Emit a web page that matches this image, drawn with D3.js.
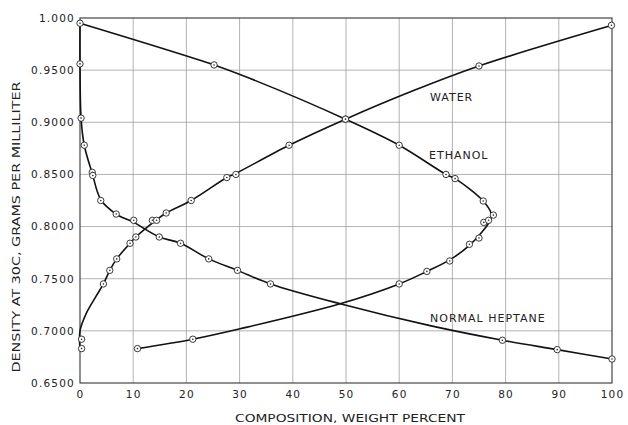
<!DOCTYPE html>
<html>
<head>
<meta charset="utf-8">
<script src="https://cdn.jsdelivr.net/npm/d3@7"></script>
<style>
  body { margin: 0; background: #fff; }
  text { font-family: "DejaVu Sans", sans-serif; fill: #222; }
</style>
</head>
<body>
<div id="chart"></div>
<script>
// tick values and labels
var xTicks = [0, 10, 20, 30, 40, 50, 60, 70, 80, 90, 100];
var xTickLabels = ["0", "10", "20", "30", "40", "50", "60", "70", "80", "90", "100"];
var yTicks = [0.65, 0.70, 0.75, 0.80, 0.85, 0.90, 0.95, 1.00];
var yTickLabels = ["0.6500", "0.7000", "0.7500", "0.8000", "0.8500", "0.9000", "0.9500", "1.000"];

// measured points [weight percent, density]
var waterPts = [[0.3, 0.683], [0.3, 0.692], [4.4, 0.745], [5.6, 0.758], [6.9, 0.769], [9.4, 0.784],
  [10.5, 0.790], [13.6, 0.806], [14.4, 0.806], [16.2, 0.813], [20.9, 0.825], [27.6, 0.847],
  [29.3, 0.850], [39.3, 0.878], [49.9, 0.903], [75.0, 0.954], [99.9, 0.993]];
var heptanePts = [[0, 0.956], [0.2, 0.904], [0.8, 0.878], [2.3, 0.852], [2.4, 0.849], [3.9, 0.825],
  [6.8, 0.812], [10.1, 0.806], [14.9, 0.790], [18.9, 0.784], [24.2, 0.769], [29.6, 0.758],
  [35.8, 0.745], [79.4, 0.691], [89.7, 0.682], [100, 0.673]];
var ethanolPts = [[10.8, 0.683], [21.2, 0.692], [60.0, 0.745], [65.2, 0.757], [69.5, 0.767],
  [73.2, 0.783], [75.0, 0.789], [75.9, 0.804], [76.8, 0.806], [77.7, 0.811], [75.8, 0.8245],
  [70.5, 0.846], [68.8, 0.850], [60.0, 0.878], [49.9, 0.903], [25.2, 0.955], [0, 0.995]];

// smoothed curves as drawn on the chart
var waterLine = [[0, 0.683], [0, 0.700], [1.2, 0.717], [3.0, 0.733], [4.4, 0.745], [5.6, 0.758],
  [6.9, 0.769], [9.4, 0.784], [10.5, 0.790], [14.0, 0.805], [16.2, 0.813], [20.9, 0.825],
  [27.6, 0.847], [29.3, 0.851], [39.3, 0.878], [49.9, 0.903], [62.0, 0.929],
  [75.0, 0.954], [100, 0.993]];
var heptaneLine = [[0, 0.995], [0, 0.956], [0.2, 0.904], [0.8, 0.878], [2.3, 0.851], [3.9, 0.826],
  [6.8, 0.812], [10.1, 0.804], [14.9, 0.790], [18.9, 0.784], [24.2, 0.769], [29.6, 0.758],
  [35.8, 0.745], [48.9, 0.726], [65.8, 0.705], [79.4, 0.691], [89.7, 0.682], [100, 0.673]];
var ethanolLine = [[10.8, 0.683], [21.2, 0.692], [30.1, 0.702], [48.9, 0.726], [60.0, 0.745],
  [65.2, 0.757], [69.5, 0.768], [73.2, 0.782], [75.6, 0.795], [77.0, 0.805], [77.3, 0.812],
  [75.8, 0.8245], [70.5, 0.846], [68.8, 0.850], [60.0, 0.878], [49.9, 0.903], [32.0, 0.942],
  [25.2, 0.955], [0, 0.995]];

var labels = [
  {name: "WATER", x: 430, y: 101},
  {name: "ETHANOL", x: 429, y: 159},
  {name: "NORMAL HEPTANE", x: 430, y: 322}
];

// dimensions
var W = 628, H = 425;
var margin = {top: 18, right: 16, bottom: 42, left: 80},
    width = W - margin.left - margin.right,
    height = H - margin.top - margin.bottom;

var svg = d3.select("#chart")
  .append("svg")
    .attr("width", W)
    .attr("height", H);

var g = svg.append("g")
    .attr("transform", "translate(" + margin.left + "," + margin.top + ")");

var x = d3.scaleLinear().domain([0, 100]).range([0, width]);
var y = d3.scaleLinear().domain([0.65, 1.0]).range([height, 0]);

// grid
g.append("g")
  .selectAll("line")
  .data(xTicks.slice(1, -1))
  .enter().append("line")
    .attr("x1", function(d) { return x(d); })
    .attr("x2", function(d) { return x(d); })
    .attr("y1", 0).attr("y2", height)
    .attr("stroke", "#a0a0a0").attr("stroke-width", 0.8);
g.append("g")
  .selectAll("line")
  .data(yTicks.slice(1, -1))
  .enter().append("line")
    .attr("y1", function(d) { return y(d); })
    .attr("y2", function(d) { return y(d); })
    .attr("x1", 0).attr("x2", width)
    .attr("stroke", "#a0a0a0").attr("stroke-width", 0.8);

// frame
g.append("rect")
  .attr("width", width).attr("height", height)
  .attr("fill", "none").attr("stroke", "#333").attr("stroke-width", 1.1);

// axes
var xAxis = g.append("g")
  .attr("transform", "translate(0," + height + ")")
  .call(d3.axisBottom(x).tickValues(xTicks).tickSize(0).tickPadding(8)
    .tickFormat(function(d, i) { return xTickLabels[i]; }));
var yAxis = g.append("g")
  .call(d3.axisLeft(y).tickValues(yTicks).tickSize(0).tickPadding(5)
    .tickFormat(function(d, i) { return yTickLabels[i]; }));
[xAxis, yAxis].forEach(function(a) {
  a.select(".domain").remove();
  a.selectAll("text")
    .style("font-family", "DejaVu Sans, sans-serif")
    .style("font-size", "10.5px")
    .style("letter-spacing", "1.2px")
    .attr("fill", "#222");
});

// curves
var line = d3.line()
  .x(function(d) { return x(d[0]); })
  .y(function(d) { return y(d[1]); })
  .curve(d3.curveCatmullRom.alpha(0.5));

[waterLine, heptaneLine, ethanolLine].forEach(function(s) {
  g.append("path")
    .datum(s)
    .attr("d", line)
    .attr("fill", "none")
    .attr("stroke", "#111")
    .attr("stroke-width", 1.6);
});

// markers
var pts = waterPts.concat(heptanePts, ethanolPts);
var mk = g.append("g").selectAll("g")
  .data(pts)
  .enter().append("g")
    .attr("transform", function(d) { return "translate(" + x(d[0]) + "," + y(d[1]) + ")"; });
mk.append("circle")
  .attr("r", 3.2)
  .attr("fill", "#fff")
  .attr("stroke", "#222")
  .attr("stroke-width", 0.9);
mk.append("circle")
  .attr("r", 0.8)
  .attr("fill", "#222");

// series labels
svg.selectAll(".lbl")
  .data(labels)
  .enter().append("text")
    .attr("class", "lbl")
    .attr("x", function(d) { return d.x; })
    .attr("y", function(d) { return d.y; })
    .style("font-size", "11px")
    .style("letter-spacing", "1px")
    .text(function(d) { return d.name; });

// axis titles
svg.append("text")
  .attr("x", margin.left + width / 2 + 4)
  .attr("y", 422)
  .attr("text-anchor", "middle")
  .attr("textLength", 230)
  .attr("lengthAdjust", "spacingAndGlyphs")
  .style("font-size", "11px")
  .text("COMPOSITION, WEIGHT PERCENT");

svg.append("text")
  .attr("transform", "translate(19.5,227) rotate(-90)")
  .attr("text-anchor", "middle")
  .attr("textLength", 291)
  .attr("lengthAdjust", "spacingAndGlyphs")
  .style("font-size", "11px")
  .text("DENSITY AT 30C, GRAMS PER MILLILITER");
</script>
</body>
</html>
